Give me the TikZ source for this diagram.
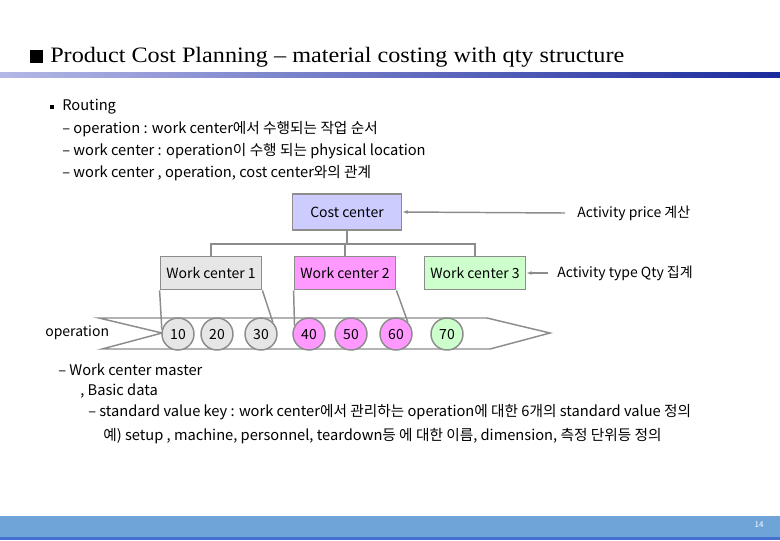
\documentclass[tikz,border=0pt]{standalone}
\usepackage{fontspec}
\setmainfont{Noto Sans CJK KR}
\newfontfamily\titlefont[FakeStretch=1.1]{Liberation Serif}
\usetikzlibrary{arrows.meta,positioning}
\definecolor{linegray}{HTML}{8C8C8C}
\definecolor{ccfill}{HTML}{CCCCFF}
\definecolor{wcgray}{HTML}{E6E6E6}
\definecolor{wcpink}{HTML}{FF99FF}
\definecolor{wcgreen}{HTML}{CCFFCC}
\definecolor{barlight}{HTML}{B4B8E6}
\definecolor{bardark}{HTML}{1A2A9C}
\definecolor{footblue}{HTML}{6FA4D9}
\definecolor{footdark}{HTML}{4670CF}

\begin{document}
\begin{tikzpicture}[x=0.75pt, y=-0.75pt, >=Latex,
  every node/.style={inner sep=0pt, font=\fontsize{10.5}{12}\selectfont},
  txt/.style={anchor=west},
  note/.style={anchor=west, font=\fontsize{11}{13}\selectfont},
  box/.style={draw=linegray, line width=1.1pt, minimum width=76pt, minimum height=25pt},
  op/.style={circle, draw=linegray, line width=1.1pt, minimum size=24pt},
  conn/.style={draw=linegray, line width=1.1pt}]
  \useasboundingbox (0,0) rectangle (780,540);
  % title
  \fill (30,50) rectangle (43,63);
  \node[txt, font=\titlefont\fontsize{16.5}{19}\selectfont] (title) at (50,57) {Product Cost Planning – material costing with qty structure};
  \shade[left color=barlight, right color=bardark] (0,72) rectangle (780,77);
  % routing notes
  \fill (50,105) rectangle (54,109);
  \node[note] (r0) at (62,107) {Routing};
  \node[note] (r1) at (62,129) {– operation : work center에서 수행되는 작업 순서};
  \node[note] (r2) at (62,151) {– work center : operation이 수행 되는 physical location};
  \node[note] (r3) at (62,173) {– work center , operation, cost center와의 관계};
  % centers
  \node[box, fill=ccfill, minimum width=82pt, minimum height=27pt] (cc) at (347,212) {Cost center};
  \node[box, fill=wcgray] (wc1) at (211,273) {Work center 1};
  \node[box, fill=wcpink] (wc2) at (345,273) {Work center 2};
  \node[box, fill=wcgreen] (wc3) at (475,273) {Work center 3};
  \node[txt] (price) at (577,213) {Activity price 계산};
  \node[txt] (qty) at (557,273) {Activity type Qty 집계};
  \coordinate (bus) at (346,244);
  \draw[conn] (cc.south) -- (cc.south |- bus);
  \draw[conn] (wc1.north) |- (bus) -| (wc3.north);
  \draw[conn] (wc2.north) -- (wc2.north |- bus);
  \draw[conn, -{Latex[length=4pt, width=3pt]}] ([xshift=-9pt]price.west) -- (cc.east);
  \draw[conn, -{Latex[length=4pt, width=3pt]}] ([xshift=-7pt]qty.west) -- (wc3.east);
  % operations
  \node[txt] (oplbl) at (45,333) {operation};
  \draw[linegray, line width=1.1pt] (99,318) -- (487,318) -- (550,333) -- (490,349) -- (102,349) -- (162,333) -- cycle;
  \node[op, fill=wcgray] (o10) at (178,334) {10};
  \node[op, fill=wcgray] (o20) at (217,334) {20};
  \node[op, fill=wcgray] (o30) at (261,334) {30};
  \node[op, fill=wcpink] (o40) at (309,334) {40};
  \node[op, fill=wcpink] (o50) at (351,334) {50};
  \node[op, fill=wcpink] (o60) at (396,334) {60};
  \node[op, fill=wcgreen] (o70) at (447,334) {70};
  \draw[conn] (wc1.south west) -- (o10.165);
  \draw[conn] (wc1.south east) -- (o30.45);
  \draw[conn] (wc2.south west) -- (o40.150);
  \draw[conn] (wc2.south east) -- (o60.45);
  % work center master
  \node[note] (m1) at (58,370) {– Work center master};
  \node[note] (m2) at (80,391) {, Basic data};
  \node[note] (m3) at (88,412) {– standard value key : work center에서 관리하는 operation에 대한 6개의 standard value 정의};
  \node[note] (m4) at (103,436) {예) setup , machine, personnel, teardown등 에 대한 이름, dimension, 측정 단위등 정의};
  % footer
  \fill[footblue] (0,516) rectangle (780,537);
  \fill[footdark] (0,537) rectangle (780,540);
  \node[text=white, font=\fontsize{6}{7}\selectfont] (page) at (759,525) {14};
\end{tikzpicture}
\end{document}
